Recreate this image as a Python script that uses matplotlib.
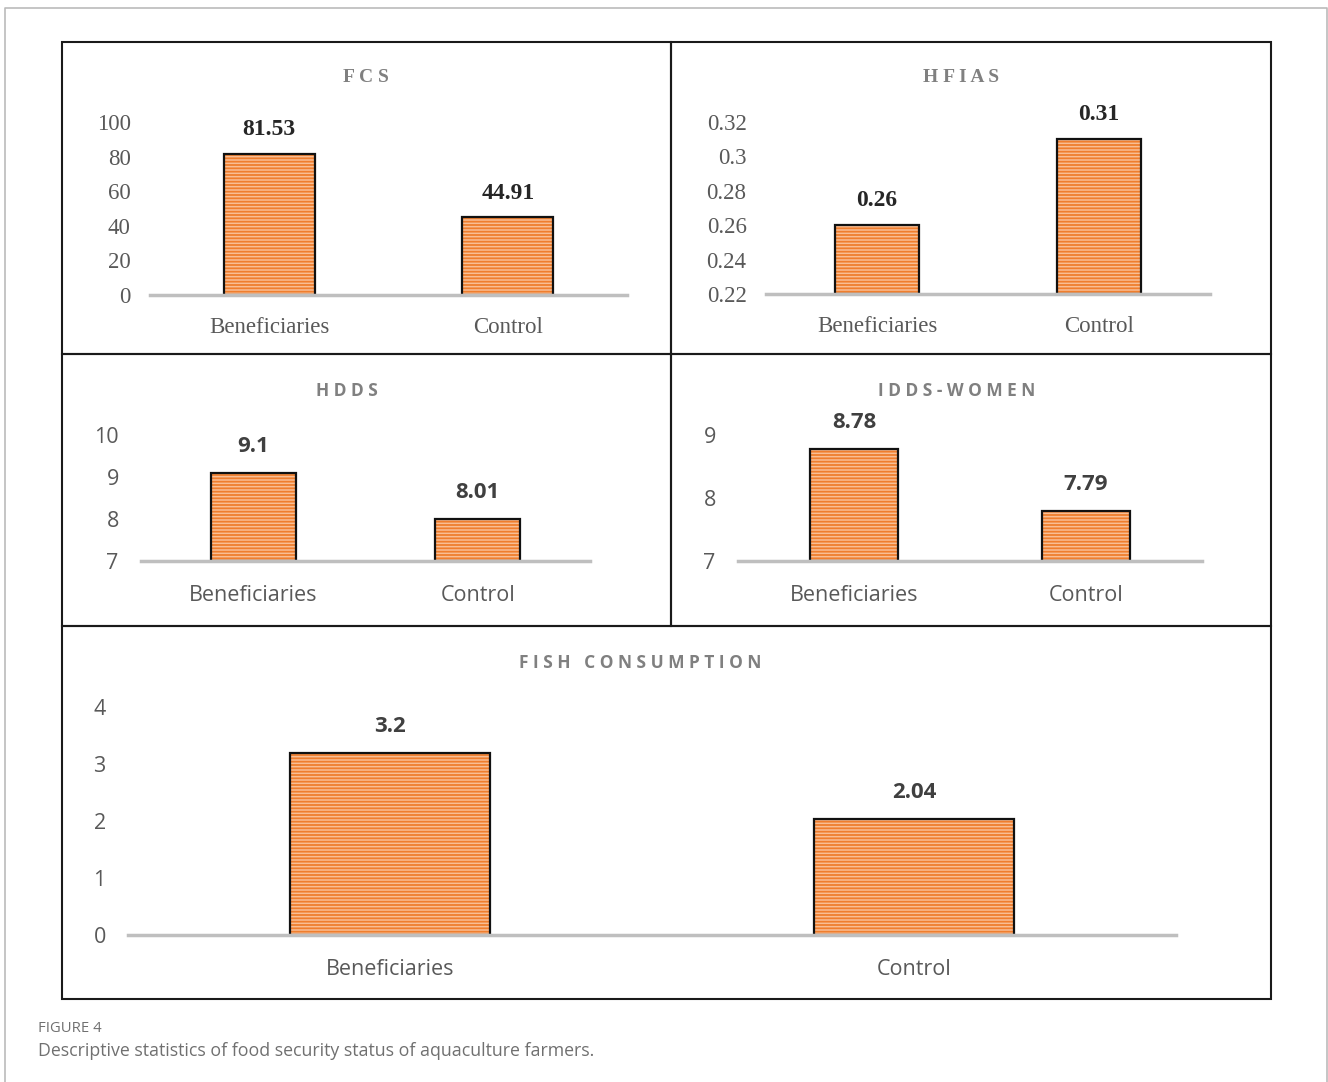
import matplotlib.pyplot as plt
from matplotlib.patches import Rectangle
from matplotlib.lines import Line2D

plt.rcParams['hatch.linewidth'] = 1.3

W, H = 1328, 1082

# data
categories = ["Beneficiaries", "Control"]
fcs = [81.53, 44.91]
hfias = [0.26, 0.31]
hdds = [9.1, 8.01]
idds_women = [8.78, 7.79]
fish = [3.2, 2.04]

fcs_ticks = [0, 20, 40, 60, 80, 100]
hfias_ticks = [0.22, 0.24, 0.26, 0.28, 0.30, 0.32]
hfias_ticklabels = ["0.22", "0.24", "0.26", "0.28", "0.3", "0.32"]
hdds_ticks = [7, 8, 9, 10]
idds_ticks = [7, 8, 9]
fish_ticks = [0, 1, 2, 3, 4]

serif = 'Liberation Serif'
sans = 'Open Sans'

fig = plt.figure(figsize=(W / 100, H / 100), dpi=100)


def box(x0, y0, x1, y1, **kw):
    # pixel coords (top-left origin) -> figure fraction rectangle
    fig.patches.append(Rectangle((x0 / W, 1 - y1 / H), (x1 - x0) / W, (y1 - y0) / H,
                                 transform=fig.transFigure, fill=False, **kw))


def panel(x0, x1, ybot, ytop, vals, ymin, ymax, ticks, ticklabels, title, tx, ty, font):
    ax = fig.add_axes([x0 / W, 1 - ybot / H, (x1 - x0) / W, (ybot - ytop) / H])
    ax.set_xlim(-0.5, 1.5)
    ax.set_ylim(ymin, ymax)
    heights = [v - ymin for v in vals]
    ax.bar([0, 1], heights, width=0.38, bottom=ymin, color='#F9BE94',
           edgecolor='#EF7E2E', hatch='-----', linewidth=0, zorder=2)
    ax.bar([0, 1], heights, width=0.38, bottom=ymin, fill=False,
           edgecolor='#111111', linewidth=1.6, zorder=3)
    if font == serif:
        lab_size, tick_size, cat_size, title_size = 17, 16.5, 16.5, 14
        lab_off, tick_pad, cat_pad, lab_col = 17.5, 14, 15.5, '#262626'
    else:
        lab_size, tick_size, cat_size, title_size = 16, 15.5, 15.5, 12.5
        lab_off, tick_pad, cat_pad, lab_col = 19, 16, 17, '#404040'
    for i, v in enumerate(vals):
        ax.annotate(f"{v:g}", (i, v), xytext=(0, lab_off), textcoords='offset points',
                    ha='center', va='center', fontsize=lab_size, fontweight='bold',
                    color=lab_col, family=font)
    for s in ['top', 'right', 'left']:
        ax.spines[s].set_visible(False)
    ax.spines['bottom'].set_color('#BFBFBF')
    ax.spines['bottom'].set_linewidth(2.5)
    ax.spines['bottom'].set_zorder(4)
    ax.set_yticks(ticks)
    ax.set_yticklabels(ticklabels, family=font, fontsize=tick_size, color='#595959')
    ax.set_xticks([0, 1])
    ax.set_xticklabels(categories, family=font, fontsize=cat_size, color='#595959')
    ax.tick_params(axis='y', length=0, pad=tick_pad)
    ax.tick_params(axis='x', length=0, pad=cat_pad)
    ax.patch.set_alpha(0)
    fig.text(tx / W, 1 - ty / H, title, ha='center', va='center', family=font,
             fontsize=title_size, fontweight='bold', color='#808080')
    return ax


# outer frame and panel boxes
fig.add_artist(Line2D([4.5 / W, 4.5 / W, 1326.5 / W, 1326.5 / W],
                      [0, 1 - 8 / H, 1 - 8 / H, 0], color='#BBBBBB', lw=1.2))
box(62, 42, 671, 354, edgecolor='#1a1a1a', lw=1.5)
box(671, 42, 1271, 354, edgecolor='#1a1a1a', lw=1.5)
box(62, 354, 671, 626, edgecolor='#1a1a1a', lw=1.5)
box(671, 354, 1271, 626, edgecolor='#1a1a1a', lw=1.5)
box(62, 626, 1271, 999, edgecolor='#1a1a1a', lw=1.5)

panel(150, 627, 295, 122, fcs, 0, 100, fcs_ticks, [str(t) for t in fcs_ticks],
      "F C S", 366, 78, serif)
panel(766, 1210, 294, 122, hfias, 0.22, 0.32, hfias_ticks, hfias_ticklabels,
      "H F I A S", 961, 78, serif)
panel(141, 590, 561, 435, hdds, 7, 10, hdds_ticks, [str(t) for t in hdds_ticks],
      "H D D S", 347, 391, sans)
panel(738, 1202, 561, 435, idds_women, 7, 9, idds_ticks, [str(t) for t in idds_ticks],
      "I D D S - W O M E N", 957, 391, sans)
panel(128, 1176, 935, 707, fish, 0, 4, fish_ticks, [str(t) for t in fish_ticks],
      "F I S H   C O N S U M P T I O N", 640, 663, sans)

fig.text(38 / W, 1 - 1029 / H, "FIGURE 4", ha='left', va='center', family=sans,
         fontsize=10.7, color='#707070')
fig.text(38 / W, 1 - 1051 / H, "Descriptive statistics of food security status of aquaculture farmers.",
         ha='left', va='center', family=sans, fontsize=12.8, color='#707070')

fig.savefig("out.png", dpi=100)
